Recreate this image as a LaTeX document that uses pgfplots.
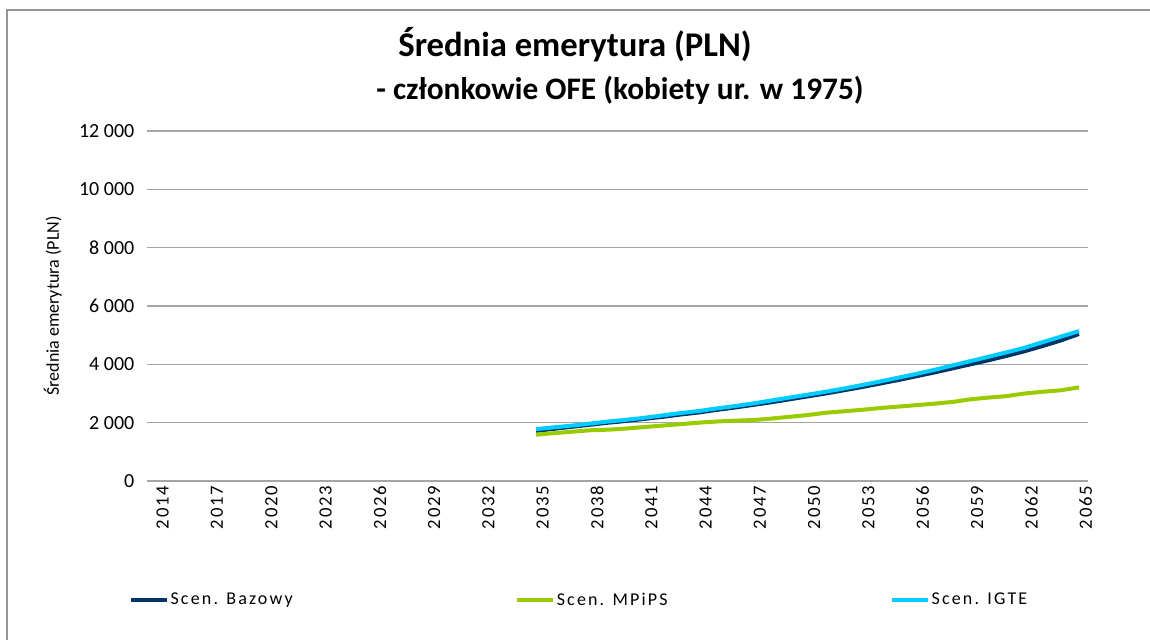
\documentclass[border=0pt]{standalone}
\usepackage{fontspec}
\setmainfont{Carlito}
\newfontfamily\spaced[LetterSpace=12]{Carlito}
\newfontfamily\spacedx[LetterSpace=10]{Carlito}
\usepackage{pgfplots}
\usepackage{pgfplotstable}
\pgfplotsset{compat=1.18}
\definecolor{baz}{RGB}{0,51,102}
\definecolor{mpips}{RGB}{153,204,0}
\definecolor{igte}{RGB}{0,204,255}
\definecolor{gridc}{RGB}{165,165,165}
\definecolor{framec}{RGB}{150,150,150}

\pgfplotstableread{
year baz mpips igte
2035 1720 1590 1780
2036 1790 1640 1840
2037 1860 1690 1900
2038 1930 1740 1970
2039 2000 1760 2040
2040 2060 1800 2100
2041 2130 1850 2170
2042 2200 1900 2250
2043 2280 1950 2330
2044 2350 2000 2400
2045 2440 2040 2490
2046 2520 2070 2570
2047 2610 2090 2660
2048 2700 2140 2760
2049 2800 2200 2860
2050 2900 2260 2960
2051 3000 2340 3060
2052 3110 2390 3170
2053 3220 2440 3290
2054 3340 2500 3410
2055 3460 2550 3540
2056 3590 2600 3670
2057 3720 2650 3810
2058 3860 2710 3960
2059 4000 2800 4110
2060 4140 2860 4260
2061 4290 2910 4410
2062 4450 3000 4570
2063 4630 3060 4760
2064 4820 3110 4950
2065 5040 3210 5140
}\data

\begin{document}
\begin{tikzpicture}
\begin{scope}[x=0.75pt,y=0.75pt]
\useasboundingbox (0,0) rectangle (1150,640);
\draw[framec, line width=1.5pt] (7,0) -- (7,630) -- (1150,630);
\node[font=\bfseries\fontsize{26}{30}\selectfont] at (575,595) {Średnia emerytura (PLN)};
\node[font=\bfseries\fontsize{23.5}{28}\selectfont] at (620,550) {- członkowie OFE (kobiety ur. w 1975)};
\end{scope}
\begin{axis}[
  at={(110.25pt,119.25pt)}, anchor=south west,
  scale only axis, width=705.75pt, height=262.5pt,
  xmin=2013.5, xmax=2065.5, ymin=0, ymax=12000,
  xtick={2014,2017,...,2065},
  xticklabels={2014,2017,2020,2023,2026,2029,2032,2035,2038,2041,2044,2047,2050,2053,2056,2059,2062,2065},
  ytick={0,2000,...,12000},
  scaled y ticks=false,
  axis line style={draw=none},
  tick style={draw=none},
  ymajorgrids,
  grid style={gridc, line width=1.1pt},
  /pgf/number format/assume math mode=true,
  /pgf/number format/fixed,
  /pgf/number format/1000 sep={\ },
  yticklabel style={font=\fontsize{15}{17}\selectfont, anchor=east, xshift=-6pt},
  xticklabel style={font=\spacedx\fontsize{14}{16}\selectfont, rotate=90, anchor=east, yshift=-5pt},
  ylabel={Średnia emerytura (PLN)},
  ylabel style={font=\fontsize{13.5}{16}\selectfont, at={(axis description cs:-0.1,0.5)}, anchor=center},
  legend columns=3,
  legend style={draw=none, fill=none, at={(axis description cs:-0.0234,-0.34)}, anchor=west,
    font=\spaced\fontsize{13.5}{15}\selectfont, nodes={inner xsep=1pt},
    /tikz/every even column/.append style={column sep=166pt}},
  legend cell align=left,
  legend image code/.code={\draw[#1] (0pt,0pt) -- (27pt,0pt);},
]
\addplot[baz, line width=3pt] table[x=year, y=baz] {\data};
\addlegendentry{Scen. Bazowy}
\addplot[mpips, line width=3pt] table[x=year, y=mpips] {\data};
\addlegendentry{Scen. MPiPS}
\addplot[igte, line width=3pt] table[x=year, y=igte] {\data};
\addlegendentry{Scen. IGTE}
\end{axis}
\end{tikzpicture}
\end{document}
